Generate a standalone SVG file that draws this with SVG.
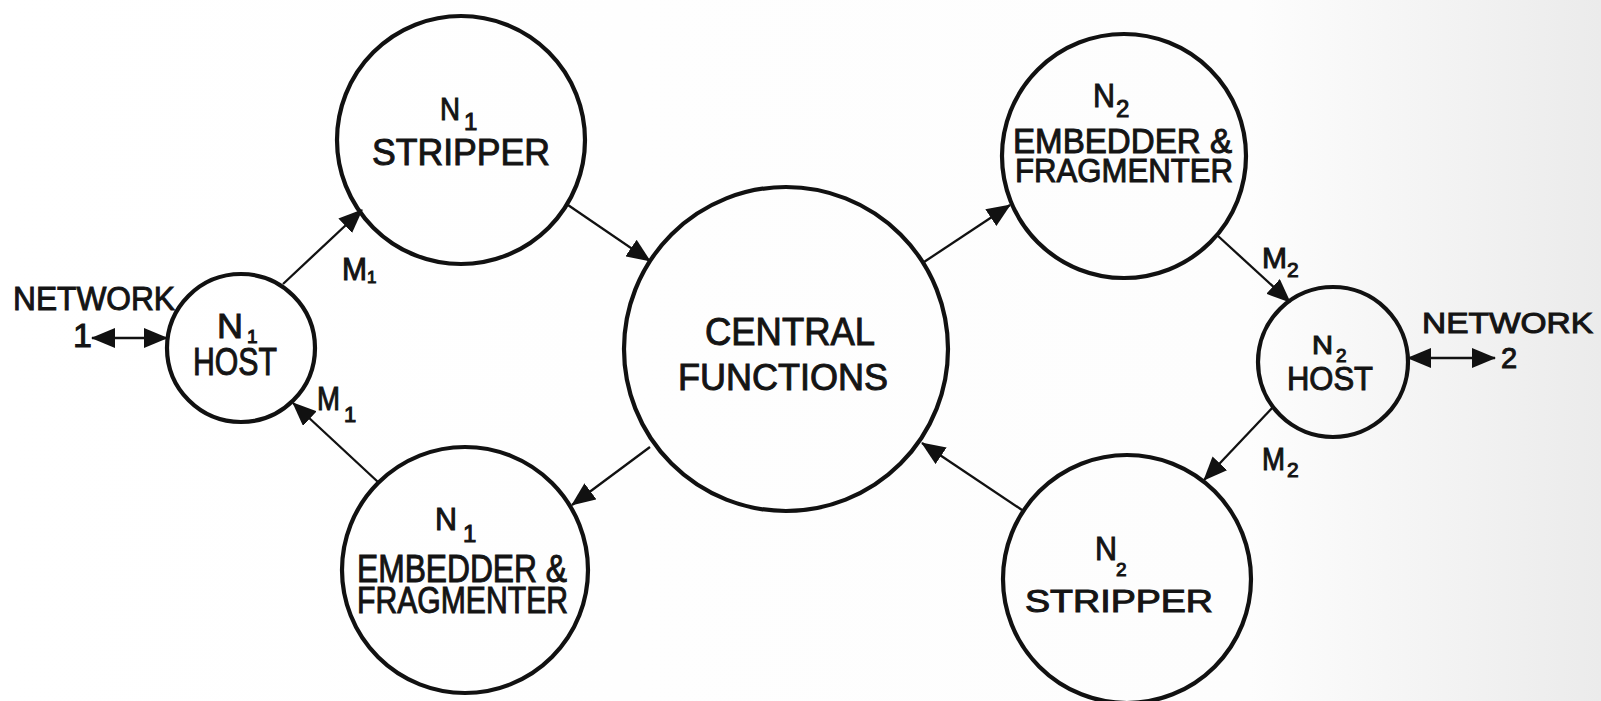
<svg xmlns="http://www.w3.org/2000/svg" width="1601" height="701" viewBox="0 0 1601 701">
<style>
.node circle{fill:none;stroke:#111;stroke-width:4.2}
.t{font-family:"Liberation Sans",Arial,sans-serif;fill:#141414;stroke:#141414;stroke-width:1}
.conn line{stroke:#111;stroke-width:2.3;fill:none}
</style>
<defs>
<linearGradient id="bg" x1="0" y1="0" x2="1" y2="0">
<stop offset="0" stop-color="#ffffff"/>
<stop offset="0.78" stop-color="#fdfdfd"/>
<stop offset="1" stop-color="#ebebeb"/>
</linearGradient>
<marker id="ah" viewBox="0 0 24 20" refX="23" refY="10" markerWidth="24" markerHeight="20" markerUnits="userSpaceOnUse" orient="auto-start-reverse">
<path d="M0,0 L24,10 L0,20 z" fill="#111"/>
</marker>
</defs>
<rect x="0" y="0" width="1601" height="701" fill="url(#bg)"/>

<g id="connectors" class="conn">
<line x1="283" y1="284" x2="362" y2="210" marker-end="url(#ah)"/>
<line x1="568" y1="205" x2="650" y2="261" marker-end="url(#ah)"/>
<line x1="650" y1="447" x2="572" y2="505" marker-end="url(#ah)"/>
<line x1="378" y1="482" x2="293" y2="403" marker-end="url(#ah)"/>
<line x1="924" y1="262" x2="1010" y2="205" marker-end="url(#ah)"/>
<line x1="1218" y1="236" x2="1290" y2="302" marker-end="url(#ah)"/>
<line x1="1274" y1="406" x2="1204" y2="480" marker-end="url(#ah)"/>
<line x1="1022" y1="510" x2="922" y2="443" marker-end="url(#ah)"/>
<line x1="92" y1="338" x2="167" y2="338" marker-start="url(#ah)" marker-end="url(#ah)"/>
<line x1="1408" y1="358" x2="1495" y2="358" marker-start="url(#ah)" marker-end="url(#ah)"/>
<text class="t" x="342" y="280" font-size="31"><tspan textLength="25" lengthAdjust="spacingAndGlyphs">M</tspan><tspan x="367" y="283" font-size="17">1</tspan></text>
<text class="t" x="317" y="410" font-size="33"><tspan textLength="23" lengthAdjust="spacingAndGlyphs">M</tspan><tspan x="344" y="422" font-size="22">1</tspan></text>
<text class="t" x="1262" y="268" font-size="29"><tspan textLength="25" lengthAdjust="spacingAndGlyphs">M</tspan><tspan x="1287" y="277" font-size="21">2</tspan></text>
<text class="t" x="1262" y="470" font-size="31"><tspan textLength="23" lengthAdjust="spacingAndGlyphs">M</tspan><tspan x="1287" y="477" font-size="21">2</tspan></text>
</g>

<g id="network1">
<text class="t" x="13" y="310" font-size="34" textLength="162" lengthAdjust="spacingAndGlyphs">NETWORK</text>
<text class="t" x="73" y="347" font-size="34">1</text>
</g>

<g id="network2">
<text class="t" x="1422" y="333" font-size="29" textLength="171" lengthAdjust="spacingAndGlyphs">NETWORK</text>
<text class="t" x="1501" y="368" font-size="29">2</text>
</g>

<g id="n1host" class="node">
<circle cx="241" cy="348" r="74"/>
<text class="t" x="217" y="338" font-size="35"><tspan textLength="26" lengthAdjust="spacingAndGlyphs">N</tspan><tspan x="247" y="343" font-size="19">1</tspan></text>
<text class="t" x="193" y="375" font-size="38" textLength="84" lengthAdjust="spacingAndGlyphs">HOST</text>
</g>

<g id="n1stripper" class="node">
<circle cx="461" cy="140" r="124"/>
<text class="t" x="440" y="120" font-size="32"><tspan textLength="20" lengthAdjust="spacingAndGlyphs">N</tspan><tspan x="464" y="130" font-size="24">1</tspan></text>
<text class="t" x="372" y="165" font-size="37" textLength="178" lengthAdjust="spacingAndGlyphs">STRIPPER</text>
</g>

<g id="n1embedder" class="node">
<circle cx="465" cy="570" r="123"/>
<text class="t" x="435" y="530" font-size="32"><tspan textLength="22" lengthAdjust="spacingAndGlyphs">N</tspan><tspan x="463" y="542" font-size="24">1</tspan></text>
<text class="t" x="357" y="582" font-size="38" textLength="210" lengthAdjust="spacingAndGlyphs">EMBEDDER &amp;</text>
<text class="t" x="357" y="613" font-size="37" textLength="211" lengthAdjust="spacingAndGlyphs">FRAGMENTER</text>
</g>

<g id="central" class="node">
<circle cx="786" cy="349" r="162"/>
<text class="t" x="705" y="345" font-size="38" textLength="170" lengthAdjust="spacingAndGlyphs">CENTRAL</text>
<text class="t" x="678" y="390" font-size="37" textLength="210" lengthAdjust="spacingAndGlyphs">FUNCTIONS</text>
</g>

<g id="n2embedder" class="node">
<circle cx="1124" cy="156" r="122"/>
<text class="t" x="1093" y="107" font-size="34"><tspan textLength="22" lengthAdjust="spacingAndGlyphs">N</tspan><tspan x="1116" y="117" font-size="24">2</tspan></text>
<text class="t" x="1013" y="153" font-size="35" textLength="219" lengthAdjust="spacingAndGlyphs">EMBEDDER &amp;</text>
<text class="t" x="1015" y="182" font-size="34" textLength="218" lengthAdjust="spacingAndGlyphs">FRAGMENTER</text>
</g>

<g id="n2host" class="node">
<circle cx="1333" cy="362" r="75"/>
<text class="t" x="1312" y="354" font-size="25"><tspan textLength="21" lengthAdjust="spacingAndGlyphs">N</tspan><tspan x="1336" y="362" font-size="19">2</tspan></text>
<text class="t" x="1287" y="390" font-size="33" textLength="86" lengthAdjust="spacingAndGlyphs">HOST</text>
</g>

<g id="n2stripper" class="node">
<circle cx="1127" cy="579" r="124"/>
<text class="t" x="1095" y="560" font-size="34"><tspan textLength="22" lengthAdjust="spacingAndGlyphs">N</tspan><tspan x="1116" y="576" font-size="19">2</tspan></text>
<text class="t" x="1025" y="612" font-size="31" textLength="188" lengthAdjust="spacingAndGlyphs">STRIPPER</text>
</g>
</svg>
